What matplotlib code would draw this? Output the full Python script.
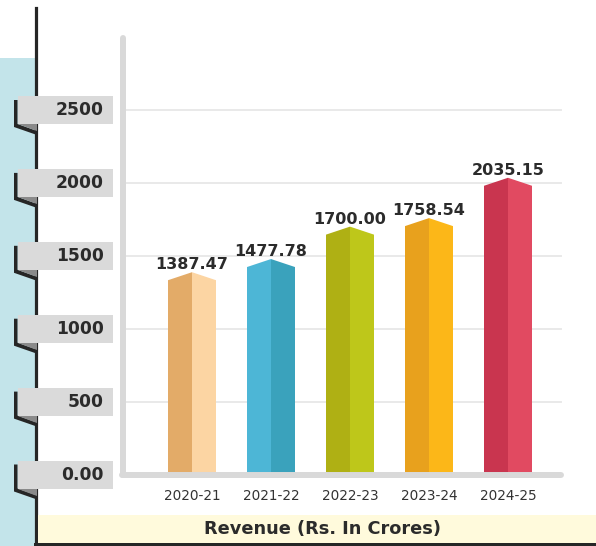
import matplotlib.pyplot as plt
from matplotlib.patches import Polygon, Rectangle

# data
years = ["2020-21", "2021-22", "2022-23", "2023-24", "2024-25"]
revenue = [1387.47, 1477.78, 1700.00, 1758.54, 2035.15]
tick_values = [0, 500, 1000, 1500, 2000, 2500]
tick_labels = ["0.00", "500", "1000", "1500", "2000", "2500"]
left_colors = ["#e3ab68", "#4db6d6", "#afb014", "#e8a11d", "#c9354f"]
right_colors = ["#fcd5a3", "#3aa2bc", "#bec71a", "#fcb718", "#e14a61"]
title = "Revenue (Rs. In Crores)"

W, H = 596, 546
fig = plt.figure(figsize=(W / 100, H / 100), dpi=100)

# background decoration in pixel coords
deco = fig.add_axes([0, 0, 1, 1], zorder=0)
deco.set_xlim(0, W)
deco.set_ylim(H, 0)
deco.axis('off')

# data axes: value 0 at 474.5px, 2500 at 110px, bars 79px apart from x=192px
ax = fig.add_axes([0, 0, 1, 1], zorder=1)
ax.patch.set_alpha(0)
ax.axis('off')
zero_px, top_px = 474.5, 110
s = (zero_px - top_px) / 2500
ax.set_ylim((zero_px - H) / s, zero_px / s)
ax.set_xlim(-192 / 79, (W - 192) / 79)


def cx(px):
    return (px - 192) / 79


def vy(px):
    return (zero_px - px) / s


upx = 1 / s
xpx = 1 / 79
dark = "#2b2b2b"

# gridlines and axis lines
for v in tick_values[1:]:
    ax.plot([cx(126), cx(561)], [v, v], color="#e9e9e9", lw=1.4, zorder=1)
ax.plot([cx(123), cx(123)], [0, vy(38)], color="#d9d9d9", lw=4.3,
        solid_capstyle='round', zorder=2)

# 3D-ish prism bars
hw = 24 * xpx
drop = 8 * upx
base = -3 * upx
for i, v in enumerate(revenue):
    ax.add_patch(Polygon([(i - hw, base), (i - hw, v - drop), (i, v), (i, base)],
                         closed=True, color=left_colors[i], lw=0, zorder=3))
    ax.add_patch(Polygon([(i, base), (i, v), (i + hw, v - drop), (i + hw, base)],
                         closed=True, color=right_colors[i], lw=0, zorder=3))
    ax.text(i, v + 3 * upx, f"{v:.2f}", ha='center', va='baseline',
            fontsize=11.5, fontweight='bold', color=dark, zorder=5)
    ax.text(i, vy(496), years[i], ha='center', va='center',
            fontsize=9.8, color="#333333")

ax.plot([cx(122), cx(561)], [0, 0], color="#d9d9d9", lw=4.3,
        solid_capstyle='round', zorder=4)

# left panel, frame lines, bottom strip
deco.add_patch(Rectangle((0, 58), 34.5, H - 58, color="#c3e4ea", lw=0, zorder=1))
deco.plot([35.7, 35.7], [8, H], color="#262626", lw=2.3, zorder=2)
deco.add_patch(Rectangle((34, 542.5), W - 34, 4, color="#262626", lw=0, zorder=2))
deco.add_patch(Rectangle((37.5, 515), W - 37.5, 27.5, color="#fffadc", lw=0, zorder=2))
deco.text(322, 528.5, title, ha='center', va='center', fontsize=12.8,
          fontweight='bold', color=dark, zorder=5)

# ribbon tags for y ticks
inv = deco.transData.inverted()
for v, lab in zip(tick_values, tick_labels):
    yc = inv.transform(ax.transData.transform((0, v)))[1]
    deco.add_patch(Polygon([(14, yc - 10), (17.5, yc - 10), (17.5, yc + 14),
                            (37, yc + 21), (37, yc + 25), (14, yc + 17)],
                           closed=True, color="#262626", lw=0, zorder=3))
    deco.add_patch(Polygon([(17.5, yc + 14), (37, yc + 14), (37, yc + 21)],
                           closed=True, color="#8a8a8a", lw=0, zorder=3))
    deco.add_patch(Rectangle((17.5, yc - 14), 95, 28, color="#dadada", lw=0, zorder=4))
    deco.text(104, yc, lab, ha='right', va='center', fontsize=12.3,
              fontweight='bold', color=dark, zorder=5)

fig.savefig("out.png", dpi=100)
